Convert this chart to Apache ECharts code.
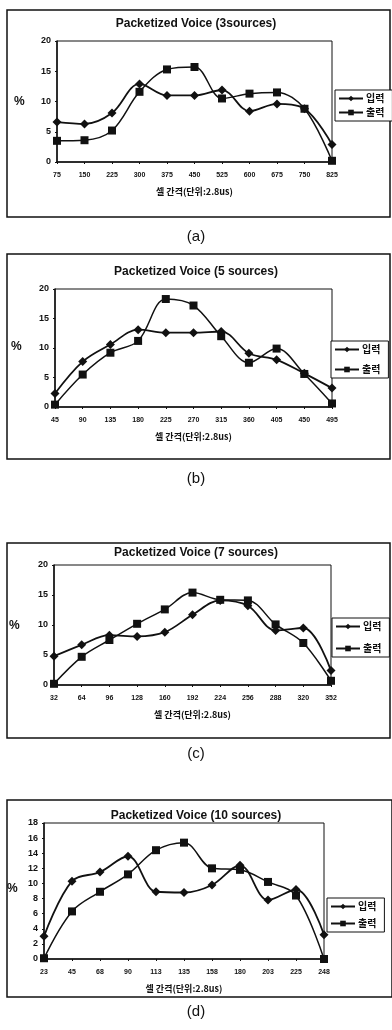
<!DOCTYPE html>
<html>
<head>
<meta charset="utf-8">
<script src="https://cdn.jsdelivr.net/npm/echarts@6/dist/echarts.min.js"></script>
<style>
  html, body { margin: 0; padding: 0; background: #fff; }
  #chart { width: 392px; height: 1030px; }
</style>
</head>
<body>
<div id="chart"></div>
<script>
// values (%)
const catsA = ['75', '150', '225', '300', '375', '450', '525', '600', '675', '750', '825']
const inA = [6.6, 6.3, 8.1, 12.9, 11.0, 11.0, 11.9, 8.4, 9.6, 8.8, 2.9]
const outA = [3.5, 3.6, 5.2, 11.6, 15.3, 15.7, 10.5, 11.3, 11.5, 8.8, 0.2]

const catsB = ['45', '90', '135', '180', '225', '270', '315', '360', '405', '450', '495']
const inB = [2.3, 7.7, 10.6, 13.1, 12.6, 12.6, 12.8, 9.1, 8.0, 5.7, 3.2]
const outB = [0.4, 5.5, 9.2, 11.2, 18.3, 17.2, 12.0, 7.5, 9.9, 5.6, 0.6]

const catsC = ['32', '64', '96', '128', '160', '192', '224', '256', '288', '320', '352']
const inC = [4.8, 6.7, 8.3, 8.1, 8.8, 11.7, 14.1, 13.2, 9.1, 9.5, 2.4]
const outC = [0.2, 4.7, 7.5, 10.2, 12.6, 15.4, 14.2, 14.1, 10.1, 7.0, 0.7]

const catsD = ['23', '45', '68', '90', '113', '135', '158', '180', '203', '225', '248']
const inD = [3.0, 10.3, 11.5, 13.6, 8.9, 8.8, 9.8, 12.4, 7.8, 9.2, 3.2]
const outD = [0.1, 6.3, 8.9, 11.2, 14.4, 15.4, 12.0, 11.8, 10.2, 8.4, 0.0]

const titles = [
  'Packetized Voice (3sources)',
  'Packetized Voice (5 sources)',
  'Packetized Voice (7 sources)',
  'Packetized Voice (10 sources)'
]
const captions = ['(a)', '(b)', '(c)', '(d)']
const yMax = [20, 20, 20, 18]
const yStep = [5, 5, 5, 2]

const panels = [
  { cats: catsA, inp: inA, out: outA },
  { cats: catsB, inp: inB, out: outB },
  { cats: catsC, inp: inC, out: outC },
  { cats: catsD, inp: inD, out: outD }
]

// layout of each panel (px)
const LAYOUT = [
  { box: [7, 10, 383, 207], grid: [57, 41, 275, 121], title: 13, legend: [335, 90], gap: 3, pct: [20, 103], cap: 238 },
  { box: [7, 254, 383, 205], grid: [55, 289, 277, 118], title: 261, legend: [331, 341], gap: 9, pct: [17, 348], cap: 480 },
  { box: [7, 543, 383, 195], grid: [54, 565, 277, 120], title: 542, legend: [332, 618], gap: 11, pct: [15, 627], cap: 755 },
  { box: [7, 800, 385, 197], grid: [44, 823, 280, 136], title: 805, legend: [327, 898], gap: 6, pct: [13, 890], cap: 1013 }
]

const FONT = 'Liberation Sans, Arial, Noto Sans CJK KR, sans-serif'
const KFONT = 'Noto Sans CJK KR, Liberation Sans, sans-serif'

const option = {
  backgroundColor: '#fff',
  animation: false,
  title: [],
  legend: [],
  grid: [],
  xAxis: [],
  yAxis: [],
  series: [],
  graphic: []
}

panels.forEach((p, i) => {
  const L = LAYOUT[i]

  option.graphic.push({
    type: 'rect',
    shape: { x: L.box[0], y: L.box[1], width: L.box[2], height: L.box[3] },
    style: { fill: 'none', stroke: '#111', lineWidth: 1.5 },
    silent: true
  })
  option.graphic.push({
    type: 'text',
    left: L.pct[0] - 6,
    top: L.pct[1] - 7,
    style: { text: '%', font: 'bold 12px ' + FONT, fill: '#111' }
  })
  option.graphic.push({
    type: 'text',
    left: 'center',
    top: L.cap - 9,
    style: { text: captions[i], font: '15px ' + FONT, fill: '#111' }
  })

  option.title.push({
    text: titles[i],
    left: 'center',
    top: L.title,
    textStyle: { fontFamily: FONT, fontSize: 12, fontWeight: 'bold', color: '#111' }
  })

  option.legend.push({
    data: ['입력', '출력'],
    orient: 'vertical',
    left: L.legend[0],
    top: L.legend[1],
    padding: [3, 8, 3, 3],
    itemGap: L.gap,
    itemWidth: 24,
    itemHeight: 7,
    borderColor: '#111',
    borderWidth: 1,
    backgroundColor: '#fff',
    textStyle: { fontFamily: KFONT, fontSize: 10, lineHeight: 11, fontWeight: 'bold', color: '#111', padding: [0, 0, 0, -2] }
  })

  option.grid.push({
    left: L.grid[0],
    top: L.grid[1],
    width: L.grid[2],
    height: L.grid[3],
    show: true,
    borderColor: '#111',
    borderWidth: 1,
    containLabel: false
  })

  option.xAxis.push({
    type: 'category',
    gridIndex: i,
    data: p.cats,
    boundaryGap: false,
    name: '셀 간격(단위:2.8us)',
    nameLocation: 'middle',
    nameGap: 25,
    nameTextStyle: { fontFamily: KFONT, fontSize: 9, fontWeight: 'bold', color: '#111' },
    axisLine: { lineStyle: { color: '#111', width: 1.5 } },
    axisTick: { alignWithLabel: true, length: 2, lineStyle: { color: '#111' } },
    axisLabel: { interval: 0, margin: 10, fontFamily: FONT, fontSize: 7, fontWeight: 'bold', color: '#111' },
    splitLine: { show: false }
  })

  option.yAxis.push({
    type: 'value',
    gridIndex: i,
    min: 0,
    max: yMax[i],
    interval: yStep[i],
    axisLine: { show: true, lineStyle: { color: '#111', width: 1.5 } },
    axisTick: { show: true, length: 2, lineStyle: { color: '#111' } },
    axisLabel: { margin: 6, fontFamily: FONT, fontSize: 9, fontWeight: 'bold', color: '#111' },
    splitLine: { show: false }
  })

  option.series.push({
    name: '입력',
    type: 'line',
    xAxisIndex: i,
    yAxisIndex: i,
    data: p.inp,
    smooth: 0.35,
    symbol: 'diamond',
    symbolSize: 9,
    itemStyle: { color: '#111' },
    lineStyle: { color: '#111', width: 1.8 },
    z: 3
  })
  option.series.push({
    name: '출력',
    type: 'line',
    xAxisIndex: i,
    yAxisIndex: i,
    data: p.out,
    smooth: 0.35,
    symbol: 'rect',
    symbolSize: 8,
    itemStyle: { color: '#111' },
    lineStyle: { color: '#111', width: 1.5 },
    z: 2
  })
})

const chart = echarts.init(document.getElementById('chart'), null, { renderer: 'canvas' })
chart.setOption(option)
</script>
</body>
</html>
